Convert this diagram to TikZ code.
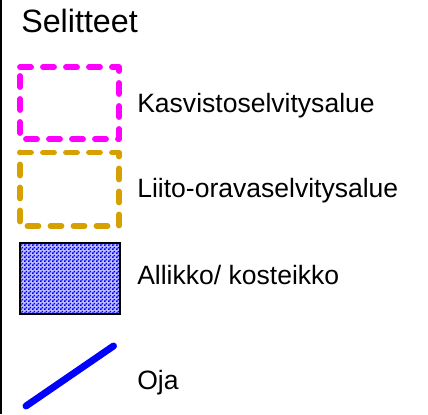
\documentclass[tikz,border=0pt]{standalone}
\usepackage{fontspec}
\setmainfont{Liberation Sans}
\usepackage{tikz}
\usetikzlibrary{positioning}
\usetikzlibrary{patterns}

\pgfdeclarepatternformonly{finechecks}{\pgfpointorigin}{\pgfpoint{3pt}{3pt}}{\pgfpoint{3pt}{3pt}}{
  \pgfpathrectangle{\pgfpointorigin}{\pgfpoint{1.5pt}{1.5pt}}
  \pgfpathrectangle{\pgfpoint{1.5pt}{1.5pt}}{\pgfpoint{1.5pt}{1.5pt}}
  \pgfusepath{fill}
}
\definecolor{kasvi}{RGB}{255,0,255}
\definecolor{liito}{RGB}{214,160,0}
\definecolor{allikkotausta}{RGB}{190,190,255}

\tikzset{
  selite/.style={anchor=base west, inner sep=0pt, font=\fontsize{19.9}{24}\selectfont},
  alue/.style={line width=4.4pt, line cap=round, line join=round, dash pattern=on 8.25pt off 9pt},
}

\begin{document}
\begin{tikzpicture}[x=0.75pt, y=-0.75pt]
  \useasboundingbox (0,0) rectangle (428,414);
  \draw[line width=1.2pt] (1,0) -- (1,414); %vasen reuna

  \node[anchor=base west, inner sep=0pt, font=\fontsize{24.2}{28}\selectfont] (otsikko) at (21,32) {Selitteet};

  % kasvistoselvitys
  \draw[alue, kasvi] (20,67) -- (119,67) -- (119,139) -- (20,139) -- cycle;
  \node[selite] (kasvisto) at (137,112) {Kasvistoselvitysalue};

  % liito-orava
  \draw[alue, liito] (20,152.5) -- (119,152.5) -- (119,226) -- (20,226) -- cycle;
  \node[selite] (liitorava) at (137,197) {Liito-oravaselvitysalue};

  % allikko
  \fill[allikkotausta] (20,243) rectangle (119.5,314);
  \fill[pattern=finechecks, pattern color=blue] (20,243) rectangle (119.5,314);
  \draw[line width=1.5pt] (20,243) rectangle (119.5,314);
  \node[selite] (allikko) at (137,284) {Allikko/ kosteikko};

  % oja
  \draw[blue, line width=5.2pt, line cap=round] (26,406) -- (113.5,346);
  \node[selite] (oja) at (137,389) {Oja};
\end{tikzpicture}
\end{document}
